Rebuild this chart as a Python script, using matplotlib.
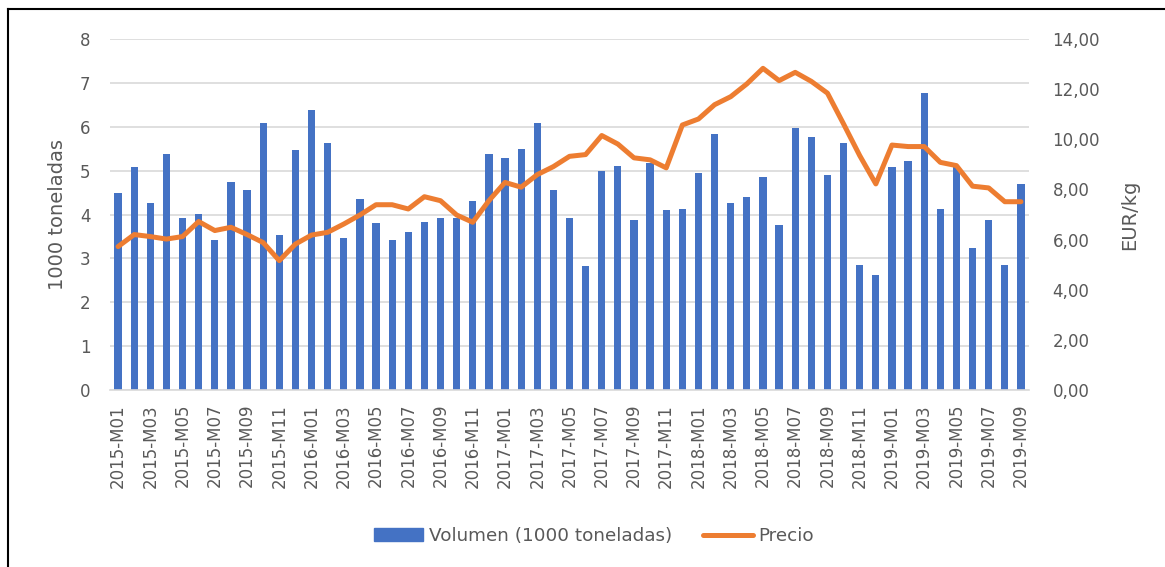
import matplotlib
matplotlib.use("Agg")
import matplotlib.pyplot as plt
from matplotlib.lines import Line2D
from matplotlib.patches import Patch
from matplotlib.ticker import FuncFormatter

plt.rcParams['font.family'] = ['DejaVu Sans']

years = [2015, 2016, 2017, 2018, 2019]
months = [f"{y}-M{m:02d}" for y in years for m in range(1, 13)][:57]

volumen = [4.48, 5.08, 4.27, 5.38, 3.92, 4.01, 3.42, 4.73, 4.56, 6.09, 3.54, 5.46,
           6.39, 5.62, 3.46, 4.35, 3.80, 3.42, 3.59, 3.84, 3.92, 3.92, 4.31, 5.37,
           5.29, 5.50, 6.09, 4.56, 3.92, 2.82, 4.99, 5.11, 3.88, 5.17, 4.10, 4.13,
           4.95, 5.84, 4.27, 4.40, 4.86, 3.75, 5.97, 5.76, 4.91, 5.63, 2.86, 2.61,
           5.08, 5.21, 6.78, 4.13, 5.08, 3.24, 3.88, 2.86, 4.70]

precio = [5.72, 6.20, 6.12, 6.02, 6.12, 6.72, 6.36, 6.49, 6.20, 5.88, 5.16, 5.82,
          6.18, 6.29, 6.62, 6.98, 7.39, 7.39, 7.22, 7.71, 7.55, 6.98, 6.69, 7.55,
          8.28, 8.09, 8.59, 8.91, 9.32, 9.39, 10.15, 9.81, 9.26, 9.18, 8.86, 10.57,
          10.81, 11.38, 11.70, 12.21, 12.83, 12.34, 12.67, 12.31, 11.84, 10.61, 9.35, 8.22,
          9.77, 9.71, 9.71, 9.08, 8.95, 8.13, 8.06, 7.51, 7.51]

BLUE = '#4472C4'
ORANGE = '#ED7D31'
TXT = '#595959'
GRID = '#D9D9D9'

fig = plt.figure(figsize=(11.65, 5.67), dpi=100)
ax = fig.add_axes([110/1165, 1 - 390/567, (1029-110)/1165, (390-39)/567])
x = list(range(len(months)))
ax.bar(x, volumen, width=0.45, color=BLUE, zorder=2)
ax.set_xlim(-0.5, len(months) - 0.5)
ax.set_ylim(0, 8)
ax.set_yticks(range(0, 9))
ax.grid(axis='y', color=GRID, linewidth=1.2, zorder=0)
ax.set_axisbelow(True)
for s in ['top', 'right', 'left']:
    ax.spines[s].set_visible(False)
ax.spines['bottom'].set_color(GRID)
ax.spines['bottom'].set_linewidth(1.2)
ax.tick_params(axis='both', length=0, colors=TXT, labelsize=12)
ax.tick_params(axis='y', pad=14)
ax.tick_params(axis='x', pad=10)
ax.set_xticks(x[::2])
ax.set_xticklabels(months[::2], rotation=90, fontsize=12, color=TXT)
ax.set_ylabel('1000 toneladas', fontsize=14, color=TXT, labelpad=9)

ax2 = ax.twinx()
ax2.plot(x, precio, color=ORANGE, linewidth=3.6, solid_capstyle='round', solid_joinstyle='round', zorder=3)
ax2.set_ylim(0, 14)
ax2.set_yticks(range(0, 15, 2))
ax2.yaxis.set_major_formatter(FuncFormatter(lambda v, p: f"{v:.2f}".replace('.', ',')))
for s in ['top', 'right', 'left', 'bottom']:
    ax2.spines[s].set_visible(False)
ax2.tick_params(axis='y', length=0, colors=TXT, labelsize=12, pad=17)
ax2.set_ylabel('EUR/kg', fontsize=14, color=TXT, labelpad=14)

handles = [Patch(facecolor=BLUE, edgecolor=BLUE), Line2D([0], [0], color=ORANGE, linewidth=3.6, solid_capstyle='round')]
fig.legend(handles, ['Volumen (1000 toneladas)', 'Precio'], loc='center', bbox_to_anchor=(594/1165, 1 - 536/567),
           ncol=2, frameon=False, fontsize=13.2, labelcolor=TXT, handlelength=2.7, columnspacing=1.7, handletextpad=0.3)

# partial frame: top and left edges only
fig.add_artist(Line2D([8/1165, 1.0], [1 - 8.5/567, 1 - 8.5/567], transform=fig.transFigure, color='black', linewidth=1.5))
fig.add_artist(Line2D([8/1165, 8/1165], [0.0, 1 - 8.5/567], transform=fig.transFigure, color='black', linewidth=1.5))

fig.savefig('out.png', dpi=100)
